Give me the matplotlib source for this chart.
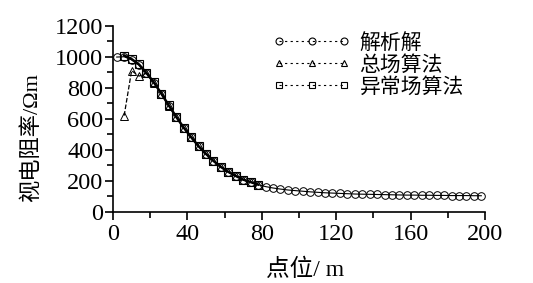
import numpy as np
import matplotlib.pyplot as plt
from matplotlib.ticker import MultipleLocator
from matplotlib.lines import Line2D

plt.rcParams['font.family'] = ['Liberation Serif', 'Noto Sans CJK SC', 'DejaVu Sans']

# 解析解
x_ana = np.arange(2, 200, 4)
y_ana = [998, 1000, 980, 946, 893, 832, 760, 684, 611, 542,
         480, 422, 372, 327, 288, 256, 230, 206, 190, 174,
         162, 153, 146, 140, 136, 132, 128, 125, 122, 120,
         118, 116, 114, 113, 112, 111, 110, 109, 108, 107,
         107, 106, 106, 105, 105, 104, 104, 104, 103, 103]

# 总场算法
x_tot = np.arange(6, 80, 4)
y_tot = [620, 910, 875, 893, 832, 760, 684, 611, 542, 480,
         422, 372, 327, 288, 256, 230, 206, 190, 174]

# 异常场算法
x_ano = np.arange(6, 80, 4)
y_ano = [1008, 985, 950, 895, 834, 762, 686, 612, 543, 481,
         423, 373, 328, 289, 257, 231, 207, 191, 175]

fig = plt.figure(figsize=(5.33, 2.83), dpi=100)
ax = fig.add_axes([0.212, 0.252, 0.698, 0.657])

ax.plot(x_ana, y_ana, color='k', lw=0.8, marker='o', ms=5.5,
        mfc='none', mec='k', mew=0.7, zorder=2)
ax.plot(x_tot, y_tot, color='k', lw=0.9, ls='--', marker='^', ms=5.5,
        mfc='none', mec='k', mew=0.7, zorder=3)
ax.plot(x_ano, y_ano, color='k', lw=1.8, marker='s', ms=6,
        mfc='none', mec='k', mew=0.8, zorder=4)

ax.set_xlim(0, 200)
ax.set_ylim(0, 1200)
ax.xaxis.set_major_locator(MultipleLocator(40))
ax.xaxis.set_minor_locator(MultipleLocator(20))
ax.yaxis.set_major_locator(MultipleLocator(200))
ax.yaxis.set_minor_locator(MultipleLocator(100))
ax.tick_params(which='major', direction='out', length=6, width=1.2,
               labelsize=17.5, pad=1)
ax.tick_params(axis='x', which='major', pad=3)
ax.tick_params(which='minor', direction='out', length=4, width=1.2)
for s in ['top', 'right']:
    ax.spines[s].set_visible(False)
for s in ['left', 'bottom']:
    ax.spines[s].set_linewidth(1.2)

ax.set_xlabel('点位/ m', fontsize=17)
ax.xaxis.set_label_coords(0.515, -0.255)
ax.set_ylabel('视电阻率/Ωm', fontsize=16)
ax.yaxis.set_label_coords(-0.19, 0.4)

handles = [
    Line2D([], [], color='k', lw=0.8, ls=(0, (2, 3)), marker='o', ms=5, mfc='none', mew=0.8),
    Line2D([], [], color='k', lw=0.8, ls=(0, (2, 3)), marker='^', ms=5, mfc='none', mew=0.8),
    Line2D([], [], color='k', lw=0.8, ls=(0, (2, 3)), marker='s', ms=5, mfc='none', mew=0.8),
]
ax.legend(handles, ['解析解', '总场算法', '异常场算法'], loc='upper left',
          bbox_to_anchor=(0.38, 1.07), frameon=False, numpoints=3,
          handlelength=3.7, handletextpad=0.45, labelspacing=0.0,
          prop={'family': ['Noto Sans CJK SC'], 'size': 15})

fig.savefig('out.png', dpi=100)
